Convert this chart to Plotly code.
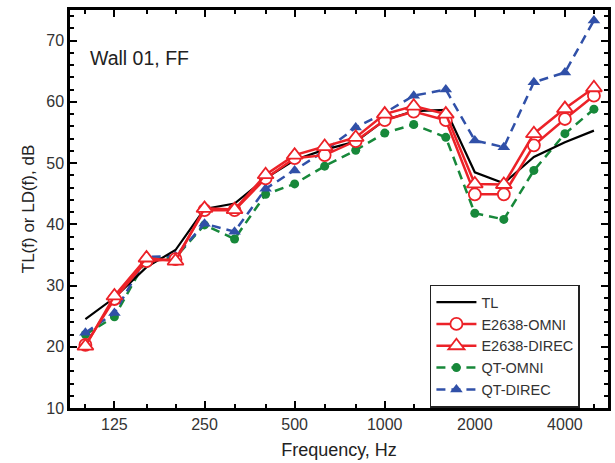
import numpy as np
import plotly.graph_objects as go

freqs = [100, 125, 160, 200, 250, 315, 400, 500, 630, 800, 1000, 1250, 1600, 2000, 2500, 3150, 4000, 5000]
tl = [24.5, 28.0, 33.0, 35.8, 42.5, 43.4, 47.5, 50.5, 52.2, 53.5, 57.0, 58.5, 58.7, 48.5, 46.7, 51.0, 53.4, 55.3]
e_omni = [20.3, 27.8, 34.0, 34.3, 42.3, 42.3, 47.5, 50.8, 51.3, 53.6, 57.0, 58.4, 57.0, 44.9, 44.9, 52.9, 57.2, 61.0]
e_direc = [20.1, 28.3, 34.5, 34.0, 42.6, 42.4, 48.1, 51.3, 52.7, 54.2, 58.0, 59.3, 58.0, 46.6, 46.5, 54.8, 58.9, 62.3]
qt_omni = [22.0, 24.9, 34.3, 34.6, 39.9, 37.6, 44.9, 46.6, 49.5, 52.1, 54.9, 56.3, 54.2, 41.8, 40.8, 48.8, 54.8, 58.8]
qt_direc = [22.3, 25.5, 34.7, 34.8, 40.1, 38.8, 45.8, 48.8, 52.0, 55.8, 58.2, 61.0, 62.0, 53.7, 52.6, 63.2, 64.8, 73.3]
xtick_vals = [125, 250, 500, 1000, 2000, 4000]
xtick_text = ["125", "250", "500", "1000", "2000", "4000"]

RED = "#ec2228"
GREEN = "#17883a"
BLUE = "#3050a8"
FONT = "Liberation Sans, Arial, sans-serif"

fig = go.Figure()
fig.add_trace(go.Scatter(x=freqs, y=qt_omni, name="QT-OMNI", mode="lines+markers", legendrank=4,
                         line=dict(color=GREEN, width=2.5, dash="9px,6px"),
                         marker=dict(symbol="circle", size=9, color=GREEN)))
fig.add_trace(go.Scatter(x=freqs, y=qt_direc, name="QT-DIREC", mode="lines+markers", legendrank=5,
                         line=dict(color=BLUE, width=2.5, dash="9px,6px"),
                         marker=dict(symbol="triangle-up", size=11, color=BLUE)))
fig.add_trace(go.Scatter(x=freqs, y=tl, name="TL", mode="lines", legendrank=1,
                         line=dict(color="black", width=2.2)))
fig.add_trace(go.Scatter(x=freqs, y=e_omni, name="E2638-OMNI", mode="lines+markers", legendrank=2,
                         line=dict(color=RED, width=2.5),
                         marker=dict(symbol="circle", size=12, color="white", line=dict(color=RED, width=1.8))))
fig.add_trace(go.Scatter(x=freqs, y=e_direc, name="E2638-DIREC", mode="lines+markers", legendrank=3,
                         line=dict(color=RED, width=2.5),
                         marker=dict(symbol="triangle-up", size=14, color="white", line=dict(color=RED, width=1.8))))

fig.add_annotation(x=0.033, y=0.88, xref="paper", yref="paper", xanchor="left", yanchor="middle",
                   text="Wall 01, FF", showarrow=False, font=dict(family=FONT, size=19.5, color="#222"))

fig.update_layout(
    width=615, height=463,
    margin=dict(l=70, r=4, t=10, b=55),
    paper_bgcolor="white", plot_bgcolor="white",
    font=dict(family=FONT, size=16, color="#333"),
    showlegend=True,
    legend=dict(x=0.669, y=0.31, xanchor="left", yanchor="top",
                bordercolor="#222", borderwidth=1.5, bgcolor="white",
                font=dict(family=FONT, size=14.5, color="#333"),
                tracegroupgap=0, itemwidth=40),
)
fig.update_xaxes(
    type="log", range=[1.9485, 3.746],
    tickmode="array", tickvals=xtick_vals, ticktext=xtick_text,
    ticks="inside", ticklen=7, tickwidth=2, tickcolor="black",
    minor=dict(tickmode="array", tickvals=freqs, ticks="inside", ticklen=4, tickwidth=2, tickcolor="black"),
    showline=True, linecolor="black", linewidth=2.5, mirror="allticks",
    showgrid=False, zeroline=False,
    title=dict(text="Frequency, Hz", font=dict(family=FONT, size=18, color="#222"), standoff=12),
    tickfont=dict(family=FONT, size=16, color="#333"),
)
fig.update_yaxes(
    range=[10, 75], tickmode="linear", tick0=10, dtick=10,
    ticks="inside", ticklen=7, tickwidth=2, tickcolor="black",
    minor=dict(dtick=2, tick0=10, ticks="inside", ticklen=4, tickwidth=2, tickcolor="black"),
    showline=True, linecolor="black", linewidth=2.5, mirror="allticks",
    showgrid=False, zeroline=False,
    title=dict(text="TL(f) or LD(f), dB", font=dict(family=FONT, size=17, color="#222"), standoff=8),
    tickfont=dict(family=FONT, size=16, color="#333"),
)

fig.write_html("out.html", config={"displayModeBar": False},
               post_script="document.body.style.margin='0';document.body.style.padding='0';")
